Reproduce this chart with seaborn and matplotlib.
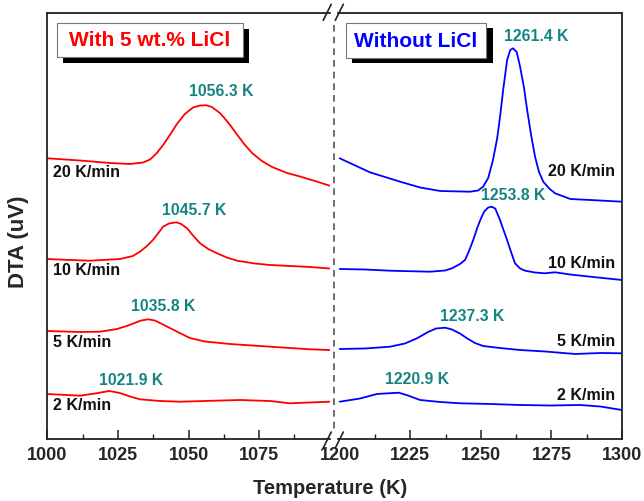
import numpy as np
import pandas as pd
import matplotlib
matplotlib.use("Agg")
import matplotlib.pyplot as plt
import seaborn as sns
from matplotlib.patches import Rectangle
from matplotlib.lines import Line2D

# ---------------- data (arbitrary stacked DTA units) ----------------
rates = ["20 K/min", "10 K/min", "5 K/min", "2 K/min"]

# With 5 wt.% LiCl
licl_T_20 = [1000.0, 1011.6, 1022.2, 1029.3, 1033.9, 1036.4, 1038.8, 1041.0, 1043.4, 1045.9, 1048.7,
             1051.6, 1054.1, 1056.3, 1058.3, 1061.1, 1063.9, 1066.8, 1069.7, 1072.5, 1076.0, 1079.6,
             1084.9, 1089.5, 1094.8, 1100.0]
licl_y_20 = [280.7, 278.5, 276.0, 275.0, 276.5, 279.5, 286.0, 294.0, 304.0, 315.0, 325.0,
             331.5, 333.5, 333.7, 332.0, 326.0, 317.0, 306.0, 295.0, 286.0, 278.0, 272.0,
             266.0, 262.5, 258.0, 253.3]
licl_T_10 = [1000.0, 1008.0, 1015.1, 1025.7, 1030.3, 1032.8, 1035.3, 1037.4, 1039.2, 1041.0, 1043.1,
             1045.7, 1047.4, 1049.5, 1051.6, 1054.1, 1057.0, 1060.1, 1063.6, 1067.2, 1073.5, 1078.9,
             1086.0, 1093.0, 1100.0]
licl_y_10 = [180.0, 179.0, 178.3, 180.0, 183.0, 187.3, 193.0, 199.0, 205.5, 212.3, 215.5,
             216.7, 215.0, 210.7, 203.5, 195.7, 190.0, 185.7, 181.5, 178.3, 175.5, 174.0,
             173.0, 172.0, 170.5]
licl_T_5 = [1000.0, 1011.6, 1018.7, 1024.7, 1028.6, 1033.2, 1035.8, 1038.1, 1040.6, 1043.4, 1046.9,
            1050.5, 1055.8, 1064.7, 1078.9, 1093.0, 1100.0]
licl_y_5 = [108.0, 107.0, 107.3, 110.0, 113.5, 118.5, 119.7, 118.5, 115.0, 111.0, 106.0,
            101.0, 97.5, 95.0, 92.3, 89.7, 89.0]
licl_T_2 = [1000.0, 1011.6, 1016.9, 1021.9, 1025.7, 1029.3, 1032.8, 1039.9, 1047.0, 1068.2, 1078.9,
            1085.9, 1100.0]
licl_y_2 = [45.0, 43.3, 45.5, 48.0, 46.0, 42.5, 39.7, 38.0, 37.3, 39.0, 38.0, 35.7, 37.3]

# Without LiCl
pure_T_20 = [1200.0, 1210.7, 1221.4, 1228.5, 1235.6, 1246.2, 1249.0, 1250.8, 1252.6, 1254.3, 1255.8,
             1256.8, 1257.9, 1259.3, 1260.4, 1261.4, 1262.7, 1263.9, 1265.3, 1266.4, 1267.8, 1269.2,
             1270.6, 1272.1, 1274.2, 1276.3, 1281.7, 1288.8, 1300.0]
pure_y_20 = [280.7, 266.7, 257.3, 251.5, 248.0, 247.3, 248.5, 252.3, 261.0, 279.0, 301.0,
             322.3, 349.0, 379.0, 389.0, 390.7, 387.0, 372.3, 351.0, 329.0, 304.0, 282.3,
             267.0, 257.3, 250.5, 245.7, 240.0, 239.0, 237.3]
pure_T_10 = [1200.0, 1209.0, 1217.8, 1232.0, 1237.3, 1239.8, 1242.6, 1244.4, 1245.8, 1247.3, 1248.7,
             1249.8, 1251.2, 1252.6, 1253.8, 1255.1, 1256.8, 1257.9, 1259.3, 1260.7, 1262.1, 1263.9,
             1265.7, 1269.2, 1272.7, 1276.3, 1281.6, 1288.8, 1300.0]
pure_y_10 = [170.0, 169.5, 168.3, 167.3, 168.5, 170.7, 175.0, 179.0, 188.0, 199.0, 211.0,
             219.0, 227.5, 231.5, 232.3, 230.5, 219.0, 210.0, 199.0, 187.0, 175.7, 170.5,
             168.3, 166.5, 165.7, 166.7, 164.5, 162.3, 159.0]
pure_T_5 = [1200.0, 1208.9, 1217.8, 1223.1, 1227.4, 1231.3, 1234.1, 1237.3, 1239.8, 1242.6, 1245.1,
            1247.9, 1250.8, 1256.8, 1263.9, 1272.8, 1283.4, 1292.3, 1300.0]
pure_y_5 = [90.0, 90.5, 92.3, 95.5, 100.7, 107.0, 110.5, 111.3, 109.5, 105.5, 100.7,
            96.0, 93.0, 91.0, 89.0, 87.5, 85.0, 86.0, 85.7]
pure_T_2 = [1200.0, 1207.2, 1213.2, 1216.0, 1220.9, 1224.2, 1228.5, 1235.6, 1242.7, 1253.3, 1263.9,
            1274.6, 1285.2, 1292.3, 1300.0]
pure_y_2 = [37.3, 40.5, 45.0, 45.5, 46.3, 43.5, 39.0, 37.0, 35.7, 35.0, 34.0, 33.5, 34.0, 32.5, 29.0]

licl_peaks = [1056.3, 1045.7, 1035.8, 1021.9]
pure_peaks = [1261.4, 1253.8, 1237.3, 1220.9]

left_ticks = [1000, 1025, 1050, 1075]
right_ticks = [1200, 1225, 1250, 1275, 1300]
left_minor = [1012.5, 1037.5, 1062.5, 1087.5]
right_minor = [1212.5, 1237.5, 1262.5, 1287.5]

title_left = "With 5 wt.% LiCl"
title_right = "Without LiCl"
xlabel = "Temperature (K)"
ylabel = "DTA (uV)"

# ---------------- style ----------------
sns.set_theme(style="white")
plt.rcParams["font.family"] = ["Liberation Sans", "DejaVu Sans"]
plt.rcParams["font.weight"] = "bold"
plt.rcParams["axes.labelweight"] = "bold"

W, H = 644, 501
def fx(px):
    return px / W
def fy(py):
    return 1 - py / H

TOP, BOT = 13.3, 439.0
L1, R1 = 47.3, 329.7
L2, R2 = 338.3, 622.0

fig = plt.figure(figsize=(W / 100, H / 100), dpi=100)
ax1 = fig.add_axes([fx(L1), fy(BOT), (R1 - L1) / W, (BOT - TOP) / H])
ax2 = fig.add_axes([fx(L2), fy(BOT), (R2 - L2) / W, (BOT - TOP) / H])

RED = "#FF0000"
BLUE = "#0000FF"
TEAL = "#138482"

def make_df(Ts, ys):
    frames = []
    for r, T, y in zip(rates, Ts, ys):
        frames.append(pd.DataFrame({"T": T, "DTA": y, "rate": r}))
    return pd.concat(frames, ignore_index=True)

licl_df = make_df([licl_T_20, licl_T_10, licl_T_5, licl_T_2],
                  [licl_y_20, licl_y_10, licl_y_5, licl_y_2])
pure_df = make_df([pure_T_20, pure_T_10, pure_T_5, pure_T_2],
                  [pure_y_20, pure_y_10, pure_y_5, pure_y_2])

sns.lineplot(data=licl_df, x="T", y="DTA", units="rate", estimator=None,
             color=RED, lw=1.3, ax=ax1, legend=False)
sns.lineplot(data=pure_df, x="T", y="DTA", units="rate", estimator=None,
             color=BLUE, lw=1.3, ax=ax2, legend=False)

ax1.set_xlim(1000, 1100)
ax2.set_xlim(1199.5, 1300)
for ax in (ax1, ax2):
    ax.set_ylim(0, BOT - TOP)
    ax.set_yticks([])
    ax.set_xlabel("")
    ax.set_ylabel("")
    for s in ax.spines.values():
        s.set_color("#222222")
        s.set_linewidth(1.3)
    ax.tick_params(axis="x", which="major", direction="in", length=6.5, width=1.1,
                   labelsize=13, pad=6, color="#222222", bottom=True)
    ax.tick_params(axis="x", which="minor", direction="in", length=3.3, width=1.0,
                   color="#222222", bottom=True)
ax1.spines["right"].set_visible(False)
ax2.spines["left"].set_visible(False)
ax1.set_xticks(left_ticks)
ax1.set_xticks(left_minor, minor=True)
ax2.set_xticks(right_ticks)
ax2.set_xticks(right_minor, minor=True)
for ax in (ax1, ax2):
    for lab in ax.get_xticklabels():
        lab.set_fontweight("bold")
# hide 1200 tick mark (at the break) but keep label
ax2.xaxis.get_major_ticks()[0].tick1line.set_visible(False)

# peak labels
licl_off = [(15, 13.6), (18, 11.6), (15, 12.3), (22, 10.3)]
pure_off = [(23, 11.6), (22, 10.7), (27, 11.0), (18, 12.7)]
for T, y, pk, off in zip([licl_T_20, licl_T_10, licl_T_5, licl_T_2],
                         [licl_y_20, licl_y_10, licl_y_5, licl_y_2], licl_peaks, licl_off):
    ax1.annotate(f"{pk:.1f} K", xy=(pk, np.interp(pk, T, y)), xytext=off,
                 textcoords="offset pixels", ha="center", va="center",
                 color=TEAL, fontsize=11.3, fontweight="bold")
for T, y, pk, off in zip([pure_T_20, pure_T_10, pure_T_5, pure_T_2],
                         [pure_y_20, pure_y_10, pure_y_5, pure_y_2], pure_peaks, pure_off):
    ax2.annotate(f"{pk:.1f} K", xy=(pk, np.interp(pk, T, y)), xytext=off,
                 textcoords="offset pixels", ha="center", va="center",
                 color=TEAL, fontsize=11.3, fontweight="bold")

# rate labels
left_rate_y = [266.3, 168.3, 96.3, 33.3]
right_rate_y = [267.3, 175.7, 97.3, 43.3]
for r, yy in zip(rates, left_rate_y):
    ax1.text(1002, yy, r, ha="left", va="center", fontsize=11.5, fontweight="bold", color="#111111")
for r, yy in zip(rates, right_rate_y):
    ax2.text(1297.6, yy, r, ha="right", va="center", fontsize=11.5, fontweight="bold", color="#111111")

# axis labels
fig.text(fx(330), fy(488), xlabel, ha="center", va="center", fontsize=14.5, fontweight="bold")
fig.text(fx(19), fy(242), ylabel, ha="center", va="center", rotation=90, fontsize=16, fontweight="bold")

# boxed titles with shadow
def boxed(x0, y0, x1, y1, sx, sy, text, color):
    fig.patches.append(Rectangle((fx(x0 + sx), fy(y1 + sy)), (x1 - x0) / W, (y1 - y0) / H,
                                 transform=fig.transFigure, facecolor="black", edgecolor="none", zorder=5))
    fig.patches.append(Rectangle((fx(x0), fy(y1)), (x1 - x0) / W, (y1 - y0) / H,
                                 transform=fig.transFigure, facecolor="white", edgecolor="#777777",
                                 lw=0.8, zorder=6))
    fig.text(fx((x0 + x1) / 2), fy((y0 + y1) / 2 + 0.5), text, ha="center", va="center",
             color=color, fontsize=15, fontweight="bold", zorder=7)

boxed(57, 23, 243, 57, 6, 6, title_left, RED)
boxed(345.7, 23.3, 486, 58.3, 6.5, 5, title_right, BLUE)

# dashed break line
fig.lines.append(Line2D([fx(334), fx(334)], [fy(25), fy(430)], transform=fig.transFigure,
                        color="#555555", lw=1.2, linestyle=(0, (4, 3)), zorder=4))

# break marks
for xc in (R1 - 2.5, L2 + 1):
    for yc in (TOP - 1, BOT + 1):
        fig.lines.append(Line2D([fx(xc - 4), fx(xc + 4)], [fy(yc + 8), fy(yc - 8)],
                                transform=fig.transFigure, color="#222222", lw=1.2, zorder=8))

fig.savefig("out.png", dpi=100)
